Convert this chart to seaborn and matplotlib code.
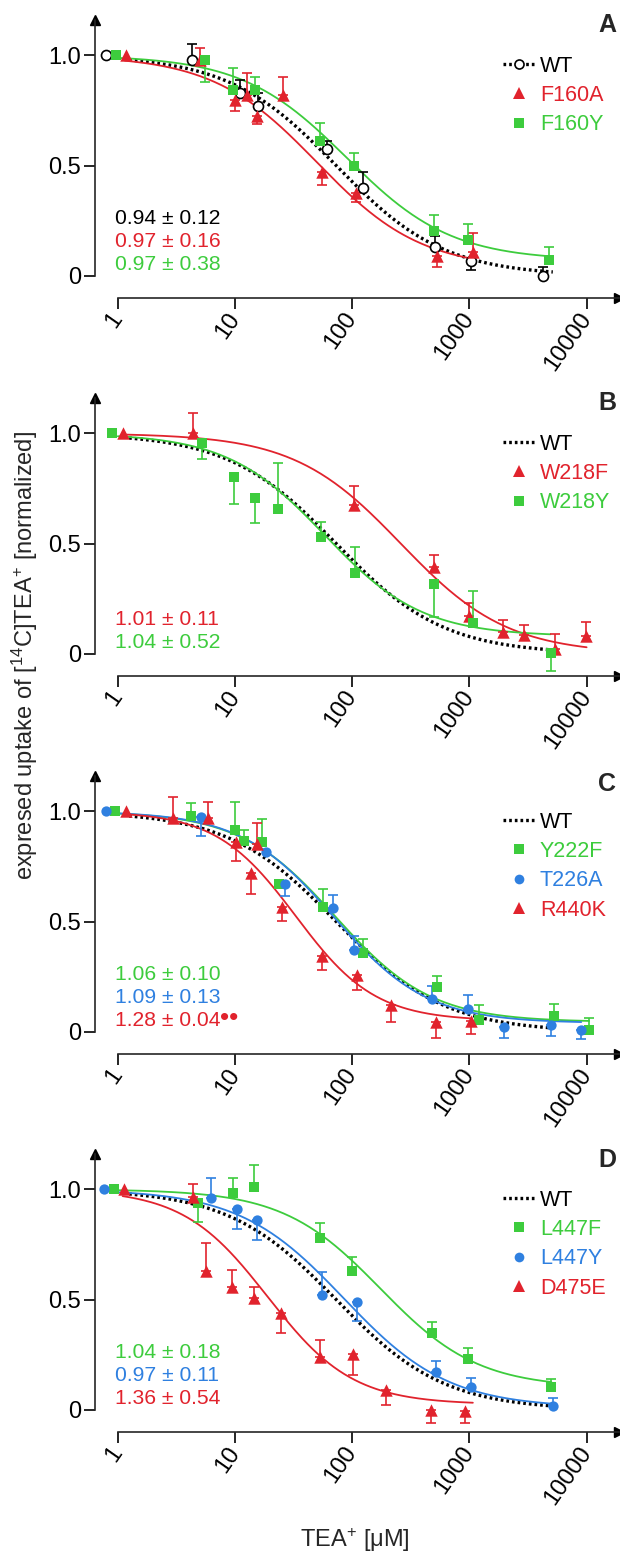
import numpy as np
import pandas as pd
import matplotlib
matplotlib.use("Agg")
import matplotlib.pyplot as plt
from matplotlib.lines import Line2D
from matplotlib.ticker import NullLocator
from matplotlib.transforms import blended_transform_factory
import seaborn as sns

RED = "#e1232d"
GREEN = "#3dcc3d"
BLUE = "#2f80e0"

# ---------------- data ----------------
# err: + means bar drawn upward, - means bar drawn downward, 0 no bar
# panel A
a_wt_x = [0.79, 4.3, 11.1, 15.8, 61.5, 124, 509, 1024, 4217]
a_wt_y = [1.0, 0.98, 0.83, 0.77, 0.575, 0.40, 0.133, 0.068, 0.0]
a_wt_err = [0, 0.07, 0.06, 0.06, 0.035, 0.07, 0.05, -0.04, 0.04]
a_f160a_x = [1.17, 5.07, 10.0, 12.7, 15.4, 25.5, 55.5, 107, 527, 1076]
a_f160a_y = [1.0, 0.977, 0.796, 0.82, 0.725, 0.82, 0.472, 0.377, 0.09, 0.11]
a_f160a_err = [0, 0.055, -0.05, 0.10, -0.035, 0.08, -0.06, -0.04, -0.048, 0.083]
a_f160y_x = [0.96, 5.6, 9.67, 14.8, 52.7, 103, 497, 970, 4790]
a_f160y_y = [1.0, 0.977, 0.842, 0.845, 0.612, 0.50, 0.205, 0.163, 0.072]
a_f160y_err = [0, -0.10, 0.10, 0.057, 0.083, 0.056, 0.07, 0.072, 0.057]

# panel B
b_w218f_x = [1.11, 4.38, 103.5, 497, 985, 1940, 2925, 5360, 9910]
b_w218f_y = [1.0, 1.0, 0.675, 0.395, 0.172, 0.10, 0.085, 0.024, 0.08]
b_w218f_err = [0, 0.094, 0.088, 0.053, 0.06, 0.053, 0.045, 0.068, 0.065]
b_w218y_x = [0.90, 5.27, 9.8, 14.8, 23.1, 54.7, 105, 501, 1065, 4960]
b_w218y_y = [1.0, 0.955, 0.80, 0.708, 0.657, 0.531, 0.368, 0.316, 0.138, 0.005]
b_w218y_err = [0, -0.073, -0.12, -0.113, 0.21, 0.065, 0.115, -0.148, 0.148, -0.082]

# panel C
c_y222f_x = [0.955, 4.18, 10.05, 12.0, 16.9, 23.6, 56.9, 124, 529, 1197, 5236, 10540]
c_y222f_y = [1.0, 0.977, 0.914, 0.864, 0.861, 0.672, 0.565, 0.358, 0.204, 0.056, 0.071, 0.008]
c_y222f_err = [0, 0.06, 0.127, 0.053, 0.104, 0, 0.085, 0.063, 0.051, 0.068, 0.057, 0.053]
c_t226a_x = [0.79, 5.11, 18.3, 26.6, 69, 103.5, 482, 970, 1983, 4960, 9030]
c_t226a_y = [1.0, 0.973, 0.814, 0.67, 0.562, 0.373, 0.15, 0.104, 0.021, 0.033, 0.011]
c_t226a_err = [0, -0.083, 0, -0.053, 0.06, 0.06, 0.057, 0.062, -0.048, -0.053, -0.045]
c_r440k_x = [1.17, 2.94, 5.93, 10.2, 13.7, 15.4, 25.1, 55.6, 109, 213, 521, 1024]
c_r440k_y = [1.0, 0.97, 0.97, 0.86, 0.72, 0.852, 0.566, 0.346, 0.26, 0.124, 0.044, 0.048]
c_r440k_err = [0, 0.093, 0.07, -0.083, -0.095, 0.095, -0.062, -0.066, -0.068, -0.078, -0.071, -0.057]

# panel D
d_l447f_x = [0.925, 4.88, 9.67, 14.6, 53.4, 99.5, 482, 970, 4960]
d_l447f_y = [1.0, 0.937, 0.985, 1.012, 0.778, 0.631, 0.35, 0.23, 0.106]
d_l447f_err = [0, -0.083, 0.065, 0.10, 0.071, 0.06, 0.047, 0.05, 0.033]
d_l447y_x = [0.76, 6.3, 10.3, 15.4, 55.6, 109, 521, 1024, 5155]
d_l447y_y = [1.0, 0.96, 0.91, 0.861, 0.521, 0.491, 0.171, 0.103, 0.018]
d_l447y_err = [0, 0.09, -0.088, -0.09, 0.106, -0.09, 0.051, 0.04, 0.035]
d_d475e_x = [1.12, 4.38, 5.7, 9.5, 14.5, 24.6, 53.4, 102, 196, 471, 926]
d_d475e_y = [1.0, 0.967, 0.631, 0.559, 0.506, 0.441, 0.242, 0.254, 0.091, 0.0, -0.003]
d_d475e_err = [0, 0.056, 0.127, 0.073, 0.053, -0.094, 0.075, -0.095, -0.068, -0.057, -0.057]

# Hill fits: [IC50 (uM), slope, bottom, x start, x end]
fit_wt_a = [73, 0.94, 0.0, 1.25, 5150]
fit_wt = [73, 0.94, 0.0, 1.25, 5000]
fit_f160a = [50, 0.97, 0.03, 1.15, 1100]
fit_f160y = [90, 0.97, 0.07, 1.0, 5000]
fit_w218f = [260, 0.95, 0.0, 1.1, 10000]
fit_w218y = [58, 1.04, 0.08, 1.0, 4900]
fit_y222f = [72, 1.06, 0.045, 1.0, 10500]
fit_t226a = [70, 1.09, 0.04, 1.0, 9000]
fit_r440k = [33, 1.28, 0.05, 1.15, 1050]
fit_l447f = [174, 1.04, 0.10, 1.0, 5000]
fit_l447y = [85, 0.97, 0.01, 0.9, 5150]
fit_d475e = [19, 1.2, 0.025, 1.1, 1070]

# Hill coefficients printed in each panel
hill_a = ["0.94 ± 0.12", "0.97 ± 0.16", "0.97 ± 0.38"]
hill_b = ["1.01 ± 0.11", "1.04 ± 0.52"]
hill_c = ["1.06 ± 0.10", "1.09 ± 0.13", "1.28 ± 0.04••"]
hill_d = ["1.04 ± 0.18", "0.97 ± 0.11", "1.36 ± 0.54"]

xticks = [1, 10, 100, 1000, 10000]
xtick_labels = ["1", "10", "100", "1000", "10000"]

# ---------------- style ----------------
sns.set_style("ticks")
plt.rcParams["font.family"] = ["Liberation Sans", "DejaVu Sans"]
plt.rcParams["mathtext.fontset"] = "custom"
plt.rcParams["mathtext.rm"] = "Liberation Sans"
plt.rcParams["mathtext.it"] = "Liberation Sans:italic"
plt.rcParams["axes.linewidth"] = 1.2

W, H = 620, 1559
fig = plt.figure(figsize=(W / 100, H / 100), dpi=100)

XL, XR = 95, 619
XMIN = 10 ** ((XL - 117.8) / 117.2)
XMAX = 10 ** ((XR - 117.8) / 117.2)
YMIN, YMAX = -0.1, 1.16
DOTS = (0, (0.8, 0.9))


def hill(fit):
    ic50, nh, bottom, x0, x1 = fit
    xs = np.logspace(np.log10(x0), np.log10(x1), 200)
    return xs, bottom + (1 - bottom) / (1 + (xs / ic50) ** nh)


def draw_series(ax, x, y, err, color, marker, size, face=None):
    df = pd.DataFrame({"x": x, "y": y, "e": err})
    bars = df[df.e != 0]
    lo = np.where(bars.e < 0, -bars.e, 0)
    hi = np.where(bars.e > 0, bars.e, 0)
    ax.errorbar(bars.x, bars.y, yerr=[lo, hi], fmt="none", ecolor=color,
                elinewidth=1.2, capsize=3.8, capthick=1.2, zorder=3)
    sns.scatterplot(data=df, x="x", y="y", ax=ax, marker=marker, s=size,
                    color=face if face else color, edgecolor=color,
                    linewidth=1.2 if face else 0, zorder=4, legend=False)


def draw_fit(ax, fit, color, dotted=False):
    xs, ys = hill(fit)
    if dotted:
        ax.plot(xs, ys, color="black", lw=2.4, linestyle=DOTS, zorder=2)
    else:
        sns.lineplot(x=xs, y=ys, ax=ax, color=color, lw=1.3, zorder=2,
                     sort=False, estimator=None)


def make_axes(i):
    bottom_px = 298 + 378 * i
    top_px = bottom_px - 278
    ax = fig.add_axes([XL / W, 1 - bottom_px / H, (XR - XL) / W, (bottom_px - top_px) / H])
    ax.set_xscale("log")
    return ax


def finish_axes(ax):
    ax.set_xlim(XMIN, XMAX)
    ax.set_ylim(YMIN, YMAX)
    sns.despine(ax=ax)
    ax.spines["left"].set_bounds(0, YMAX)
    ax.spines["bottom"].set_bounds(1, XMAX)
    ax.set_yticks([0, 0.5, 1.0], ["0", "0.5", "1.0"])
    ax.set_xticks(xticks, xtick_labels)
    ax.xaxis.set_minor_locator(NullLocator())
    ax.tick_params(length=8, width=1.2, labelsize=17, pad=2, colors="black")
    ax.tick_params(axis="x", pad=4)
    for lab in ax.get_xticklabels():
        lab.set_rotation(55)
        lab.set_ha("right")
        lab.set_va("center")
        lab.set_rotation_mode("anchor")
    ax.set_xlabel("")
    ax.set_ylabel("")
    ax.plot(1, 0, marker=">", color="black", markersize=7, transform=ax.transAxes,
            clip_on=False)
    ax.plot(0, 1, marker="^", color="black", markersize=7, transform=ax.transAxes,
            clip_on=False)


def add_hill_text(ax, texts, colors, first_row=0):
    tr = blended_transform_factory(ax.transAxes, ax.transData)
    rows = [0.262, 0.157, 0.053]
    for k, (t, c) in enumerate(zip(texts, colors)):
        marks = ""
        if t.endswith("••"):
            t, marks = t[:-2], "••"
        txt = ax.text(0.038, rows[first_row + k], t, transform=tr, color=c,
                      fontsize=15.2, va="center", ha="left")
        if marks:
            ax.annotate(marks, xy=(1, 0.6), xycoords=txt, xytext=(-0.5, 0),
                        textcoords="offset points", color=c, fontsize=19,
                        va="center", ha="left")


def add_legend(ax, handles, labels, colors):
    ax.legend(handles, labels, loc="upper left", bbox_to_anchor=(0.779, 0.872),
              frameon=False, fontsize=15.5, handlelength=1.5, handletextpad=0.2,
              labelspacing=0.39, borderpad=0, borderaxespad=0, labelcolor=colors)


def marker_handle(color, marker, ms):
    return Line2D([], [], linestyle="none", marker=marker, color=color,
                  markersize=ms, markeredgewidth=0)


wt_line = Line2D([], [], color="black", lw=2.4, linestyle=DOTS)
wt_line_circle = Line2D([], [], color="black", lw=2.4, linestyle=DOTS,
                        marker="o", markerfacecolor="white", markeredgecolor="black",
                        markersize=6.5, markeredgewidth=1.2)

# ---------------- panel A ----------------
ax = make_axes(0)
draw_fit(ax, fit_wt_a, "black", dotted=True)
draw_fit(ax, fit_f160a, RED)
draw_fit(ax, fit_f160y, GREEN)
draw_series(ax, a_wt_x, a_wt_y, a_wt_err, "black", "o", 52, face="white")
draw_series(ax, a_f160a_x, a_f160a_y, a_f160a_err, RED, "^", 80)
draw_series(ax, a_f160y_x, a_f160y_y, a_f160y_err, GREEN, "s", 50)
finish_axes(ax)
add_hill_text(ax, hill_a, ["black", RED, GREEN])
add_legend(ax, [wt_line_circle, marker_handle(RED, "^", 8), marker_handle(GREEN, "s", 6.5)],
           ["WT", "F160A", "F160Y"], ["black", RED, GREEN])

# ---------------- panel B ----------------
ax = make_axes(1)
draw_fit(ax, fit_wt, "black", dotted=True)
draw_fit(ax, fit_w218f, RED)
draw_fit(ax, fit_w218y, GREEN)
draw_series(ax, b_w218f_x, b_w218f_y, b_w218f_err, RED, "^", 80)
draw_series(ax, b_w218y_x, b_w218y_y, b_w218y_err, GREEN, "s", 50)
finish_axes(ax)
add_hill_text(ax, hill_b, [RED, GREEN], first_row=1)
add_legend(ax, [wt_line, marker_handle(RED, "^", 8), marker_handle(GREEN, "s", 6.5)],
           ["WT", "W218F", "W218Y"], ["black", RED, GREEN])

# ---------------- panel C ----------------
ax = make_axes(2)
draw_fit(ax, fit_wt, "black", dotted=True)
draw_fit(ax, fit_y222f, GREEN)
draw_fit(ax, fit_t226a, BLUE)
draw_fit(ax, fit_r440k, RED)
draw_series(ax, c_y222f_x, c_y222f_y, c_y222f_err, GREEN, "s", 50)
draw_series(ax, c_t226a_x, c_t226a_y, c_t226a_err, BLUE, "o", 55)
draw_series(ax, c_r440k_x, c_r440k_y, c_r440k_err, RED, "^", 80)
finish_axes(ax)
add_hill_text(ax, hill_c, [GREEN, BLUE, RED])
add_legend(ax, [wt_line, marker_handle(GREEN, "s", 6.5), marker_handle(BLUE, "o", 7),
                marker_handle(RED, "^", 8)],
           ["WT", "Y222F", "T226A", "R440K"], ["black", GREEN, BLUE, RED])

# ---------------- panel D ----------------
ax = make_axes(3)
draw_fit(ax, fit_wt_a, "black", dotted=True)
draw_fit(ax, fit_l447f, GREEN)
draw_fit(ax, fit_l447y, BLUE)
draw_fit(ax, fit_d475e, RED)
draw_series(ax, d_l447f_x, d_l447f_y, d_l447f_err, GREEN, "s", 50)
draw_series(ax, d_l447y_x, d_l447y_y, d_l447y_err, BLUE, "o", 55)
draw_series(ax, d_d475e_x, d_d475e_y, d_d475e_err, RED, "^", 80)
finish_axes(ax)
add_hill_text(ax, hill_d, [GREEN, BLUE, RED])
add_legend(ax, [wt_line, marker_handle(GREEN, "s", 6.5), marker_handle(BLUE, "o", 7),
                marker_handle(RED, "^", 8)],
           ["WT", "L447F", "L447Y", "D475E"], ["black", GREEN, BLUE, RED])

# panel letters
for letter, ypx in zip("ABCD", [25, 403, 784, 1160]):
    fig.text(598 / W, 1 - ypx / H, letter, fontsize=18, fontweight="bold",
             ha="left", va="center")

fig.text(25 / W, 1 - 655 / H, "expresed uptake of [$^{14}$C]TEA$^{+}$ [normalized]",
         rotation=90, fontsize=17, ha="center", va="center")
fig.text(355 / W, 1 - 1540 / H, "TEA$^{+}$ [μM]", fontsize=17, ha="center", va="center")

fig.savefig("out.png", dpi=100)
